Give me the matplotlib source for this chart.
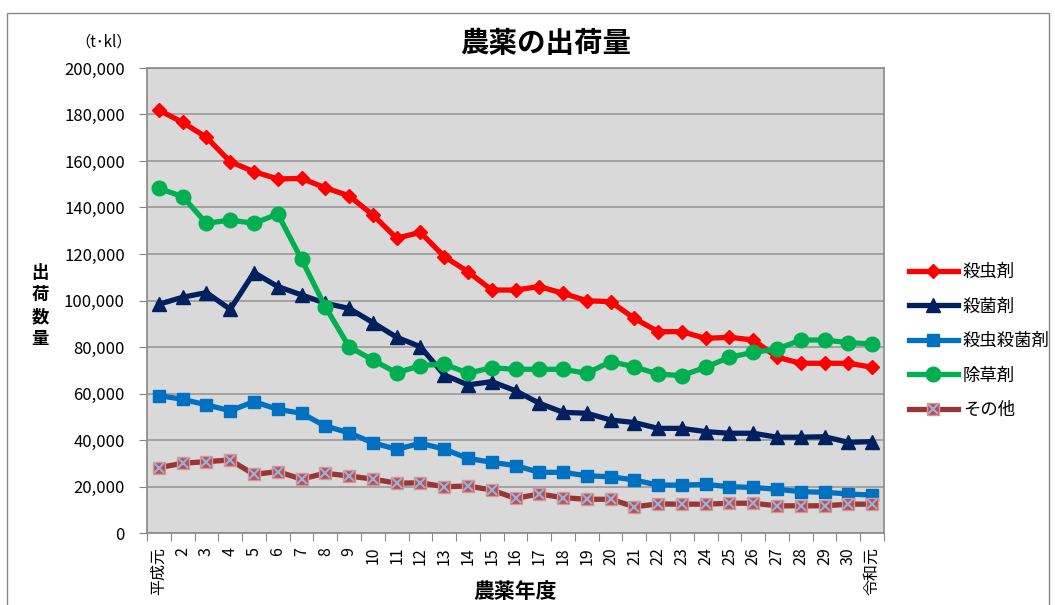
import matplotlib
matplotlib.use("Agg")
import matplotlib.pyplot as plt
from matplotlib.patches import Rectangle

plt.rcParams['font.family'] = ['Noto Sans CJK JP', 'DejaVu Sans']

years = ["平成元"] + [str(i) for i in range(2, 31)] + ["令和元"]

insecticide = [181.9, 176.6, 170.2, 159.7, 155.4, 152.3, 152.5, 148.5, 145.0, 136.8,
               126.8, 129.3, 118.9, 112.4, 104.5, 104.5, 106.0, 103.1, 99.9, 99.5,
               92.3, 86.6, 86.6, 83.7, 84.2, 83.0, 75.6, 73.0, 73.0, 73.0, 71.3]
fungicide = [98.4, 101.4, 103.4, 96.2, 112.0, 106.0, 102.4, 98.8, 96.6, 90.5,
             84.2, 80.1, 68.0, 63.7, 65.1, 61.2, 55.8, 51.9, 51.5, 48.6,
             47.5, 45.0, 45.0, 43.6, 42.9, 42.9, 41.2, 41.2, 41.4, 39.0, 39.3]
insect_fungicide = [59.1, 57.5, 55.1, 52.6, 56.5, 53.2, 51.5, 46.0, 43.1, 38.8,
                    36.0, 38.6, 36.1, 32.1, 30.4, 29.0, 26.1, 26.1, 24.6, 24.2,
                    22.8, 20.6, 20.6, 20.9, 19.9, 19.6, 18.8, 17.8, 17.5, 16.8, 16.3]
herbicide = [148.2, 144.7, 133.2, 134.6, 133.2, 137.2, 117.7, 97.3, 80.1, 74.4,
             68.9, 72.0, 72.7, 68.7, 71.1, 70.4, 70.4, 70.4, 68.7, 73.7,
             71.5, 68.3, 67.7, 71.3, 75.6, 77.7, 79.1, 83.0, 83.0, 81.9, 81.3]
others = [28.1, 30.0, 30.7, 31.4, 25.2, 26.4, 23.2, 25.7, 24.5, 23.2,
          21.4, 21.6, 19.9, 20.2, 18.5, 14.9, 16.8, 15.2, 14.5, 14.5,
          11.3, 12.5, 12.4, 12.4, 12.8, 12.8, 11.7, 11.7, 11.7, 12.4, 12.4]

labels = ["殺虫剤", "殺菌剤", "殺虫殺菌剤", "除草剤", "その他"]

fig = plt.figure(figsize=(10.55, 6.05), dpi=100)
ax = fig.add_axes([147 / 1055, 1 - 533 / 605, (884 - 147) / 1055, (533 - 68) / 605])

# outer chart border
fig.patches.append(Rectangle((7 / 1055, -0.1), (1049 - 7) / 1055, 1.1 - 13 / 605,
                             transform=fig.transFigure, fill=False,
                             edgecolor='#888888', linewidth=1))

x = list(range(len(years)))
scale = lambda s: [v * 1000 for v in s]
lw = 3.8

h1, = ax.plot(x, scale(insecticide), color='#FF0000', lw=lw, marker='D', ms=7.5, zorder=5)
h2, = ax.plot(x, scale(fungicide), color='#002060', lw=lw, marker='^', ms=10, zorder=4)
h3, = ax.plot(x, scale(insect_fungicide), color='#0070C0', lw=lw, marker='s', ms=8.5, zorder=4)
h4, = ax.plot(x, scale(herbicide), color='#00B050', lw=lw, marker='o', ms=10.5, zorder=5)
h5, = ax.plot(x, scale(others), color='#953735', lw=lw, marker='s', ms=8.5,
              markerfacecolor='#C0504D', markeredgecolor='#D99694', zorder=4)
h5x, = ax.plot(x, scale(others), color='none', lw=0, marker='x', ms=7,
               markeredgecolor='#8EB4E3', mew=1.5, zorder=6)

ax.set_facecolor('#D9D9D9')
ax.set_ylim(0, 200000)
ax.set_xlim(-0.5, len(years) - 0.5)
ax.set_yticks(range(0, 200001, 20000))
ax.set_yticklabels([f"{v:,}" for v in range(0, 200001, 20000)], fontsize=12)
ax.yaxis.grid(True, color='#999999', lw=1.2)
ax.set_axisbelow(True)

ax.set_xticks([i - 0.5 for i in range(len(years) + 1)])
ax.set_xticklabels([])
ax.set_xticks(x, minor=True)
ax.set_xticklabels(years, minor=True, rotation=90, fontsize=11.5)
ax.tick_params(axis='x', which='minor', length=0, pad=10)
ax.tick_params(axis='x', which='major', length=6, color='#888888')
ax.tick_params(axis='y', length=6, color='#888888', pad=10)
for s in ax.spines.values():
    s.set_color('#888888')
    s.set_linewidth(1.2)

fig.text(546 / 1055, 1 - 44 / 605, "農薬の出荷量", fontsize=20.5, fontweight='bold',
         ha='center', va='center')
fig.text(104 / 1055, 1 - 42 / 605, "（t･kl）", fontsize=11, ha='center', va='center')
fig.text(40 / 1055, 1 - 306 / 605, "出\n荷\n数\n量", fontsize=12.5, fontweight='bold',
         ha='center', va='center', linespacing=1.3)
fig.text(515 / 1055, 1 - 591 / 605, "農薬年度", fontsize=15, fontweight='bold',
         ha='center', va='center')

fig.legend([h1, h2, h3, h4, (h5, h5x)], labels, loc='upper left',
           bbox_to_anchor=(909 / 1055, 1 - 263 / 605), frameon=False,
           borderpad=0, borderaxespad=0,
           fontsize=12.5, handlelength=2.8, labelspacing=0.95, handletextpad=0.3)

fig.savefig("out.png", dpi=100)
